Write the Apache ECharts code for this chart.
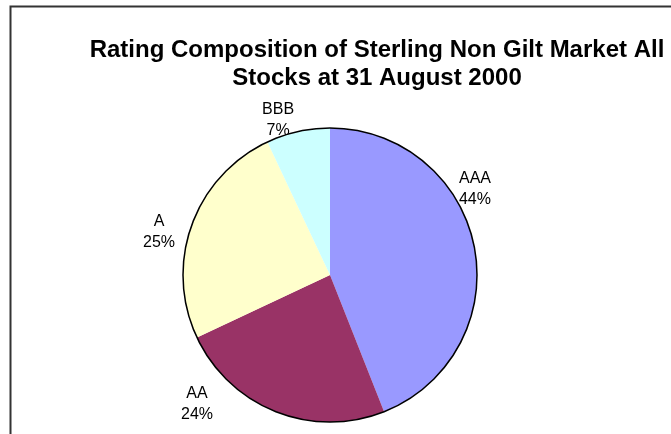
<!DOCTYPE html>
<html>
<head>
<meta charset="utf-8">
<script src="https://cdn.jsdelivr.net/npm/echarts@6/dist/echarts.min.js"></script>
<style>
  html, body { margin: 0; padding: 0; background: #ffffff; }
  #chart { width: 671px; height: 434px; }
</style>
</head>
<body>
<div id="chart"></div>
<script>
// Rating composition, share of market value (%)
const ratings = ['AAA', 'AA', 'A', 'BBB'];
const shares = [44, 24, 25, 7];
const sliceColors = ['#9999FF', '#993366', '#FFFFCC', '#CCFFFF'];

const titleText = 'Rating Composition of Sterling Non Gilt Market All\nStocks at 31 August 2000';

// Pie geometry
const pieCenter = [330, 275];
const pieRadius = 147;
// Label placement around the pie: [angle clockwise from 12 o'clock (deg), distance as a multiple of the radius]
const labelPlacement = [[59.3, 1.147], [225.9, 1.26], [284.1, 1.199], [341.5, 1.112]];

const chart = echarts.init(document.getElementById('chart'), null, { renderer: 'canvas' });

const option = {
  animation: false,
  backgroundColor: '#ffffff',
  title: {
    text: titleText,
    left: 372,
    top: 31,
    textAlign: 'center',
    textStyle: {
      fontFamily: 'Liberation Sans, Arial, sans-serif',
      fontSize: 24,
      fontWeight: 'bold',
      color: '#000000',
      lineHeight: 28
    }
  },
  graphic: [{
    type: 'rect',
    left: 8,
    top: 4,
    shape: { x: 0, y: 0, width: 760, height: 460 },
    style: { fill: 'none', stroke: '#333333', lineWidth: 2 },
    silent: true,
    z: 100
  }],
  series: [
    {
      type: 'pie',
      center: pieCenter,
      radius: pieRadius,
      startAngle: 90,
      clockwise: true,
      silent: true,
      emphasis: { disabled: true },
      data: ratings.map((name, i) => ({
        name: name,
        value: shares[i],
        itemStyle: { color: sliceColors[i] }
      })),
      itemStyle: { borderWidth: 0 },
      label: {
        show: true,
        position: 'outside',
        formatter: '{b}\n{c}%',
        fontFamily: 'Liberation Sans, Arial, sans-serif',
        fontSize: 16,
        lineHeight: 21,
        color: '#000000',
        align: 'center'
      },
      labelLine: { show: false },
      labelLayout: function (p) {
        const pl = labelPlacement[p.dataIndex];
        const a = pl[0] * Math.PI / 180;
        const d = pl[1] * pieRadius;
        return {
          x: pieCenter[0] + d * Math.sin(a),
          y: pieCenter[1] - d * Math.cos(a),
          align: 'center',
          verticalAlign: 'middle',
          hideOverlap: false
        };
      },
      z: 2
    },
    {
      // circular outline drawn over the slices
      type: 'pie',
      center: pieCenter,
      radius: pieRadius,
      silent: true,
      emphasis: { disabled: true },
      data: [{ name: 'outline', value: 1 }],
      itemStyle: { color: 'rgba(0,0,0,0)', borderColor: '#000000', borderWidth: 1.5 },
      label: { show: false },
      labelLine: { show: false },
      z: 3
    }
  ]
};

chart.setOption(option);
</script>
</body>
</html>
